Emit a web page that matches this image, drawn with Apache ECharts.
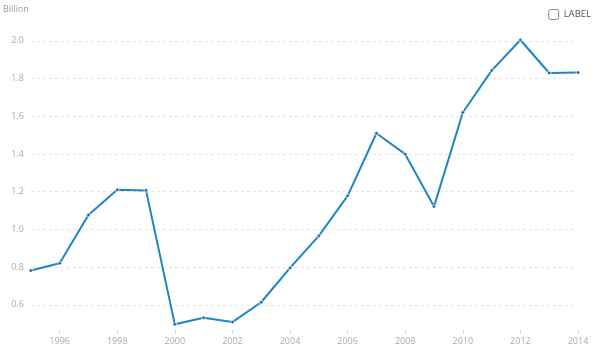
<!DOCTYPE html>
<html><head><meta charset="utf-8">
<script src="https://cdn.jsdelivr.net/npm/echarts@6/dist/echarts.min.js"></script>
<style>html,body{margin:0;padding:0;background:#fff}#c{width:601px;height:356px}</style>
</head><body><div id="c"></div>
<script>
var years = ['1995','1996','1997','1998','1999','2000','2001','2002','2003','2004','2005','2006','2007','2008','2009','2010','2011','2012','2013','2014'];
var values = [0.782,0.821,1.077,1.210,1.207,0.497,0.532,0.509,0.614,0.796,0.966,1.178,1.510,1.399,1.121,1.620,1.842,2.004,1.829,1.832];
var seriesName = 'LABEL';
var unitName = 'Billion';

var chart = echarts.init(document.getElementById('c'), null, {renderer:'canvas'});
var font = "'Open Sans', sans-serif";
chart.setOption({
  animation:false,
  grid:{left:29, right:23, top:20, bottom:26, containLabel:false},
  legend:{
    data:[{name:seriesName, icon:'path://M2,0H8A2,2 0 0 1 10,2V8A2,2 0 0 1 8,10H2A2,2 0 0 1 0,8V2A2,2 0 0 1 2,0Z'}],
    right:5, top:4, itemWidth:10, itemHeight:10, itemGap:4,
    itemStyle:{color:'#fff', borderColor:'#888', borderWidth:1},
    textStyle:{color:'#555', fontSize:9.5, fontFamily:font},
    selectedMode:false
  },
  xAxis:{
    type:'category', data:years, boundaryGap:false,
    axisLine:{show:false},
    axisTick:{show:true, length:3, lineStyle:{color:'#ccc'}, interval:function(i){return i%2===1;}},
    axisLabel:{color:'#aaa', fontSize:9, fontFamily:font, margin:7, interval:function(i){return i%2===1;}},
    splitLine:{show:false}
  },
  yAxis:{
    type:'value', min:0.467, max:2.11, minInterval:0.2, maxInterval:0.2, splitNumber:8,
    name:unitName, nameLocation:'end', nameGap:6,
    nameTextStyle:{color:'#999', fontSize:9, fontFamily:font, align:'right', padding:[0,2,0,0]},
    axisLine:{show:false}, axisTick:{show:false},
    axisLabel:{color:'#aaa', fontSize:9, fontFamily:font, margin:7, showMinLabel:false, showMaxLabel:false,
      formatter:function(v){return v.toFixed(1);}},
    splitLine:{show:true, showMinLine:false, showMaxLine:false, lineStyle:{color:'#e3e3e3', type:[3,3]}}
  },
  series:[{
    name:seriesName, type:'line', data:values,
    lineStyle:{color:'#1f86c3', width:2},
    symbol:'circle', symbolSize:3.5, showSymbol:true,
    itemStyle:{color:'#17629a', borderColor:'#e8f2fa', borderWidth:0.8}
  }]
});
</script></body></html>
